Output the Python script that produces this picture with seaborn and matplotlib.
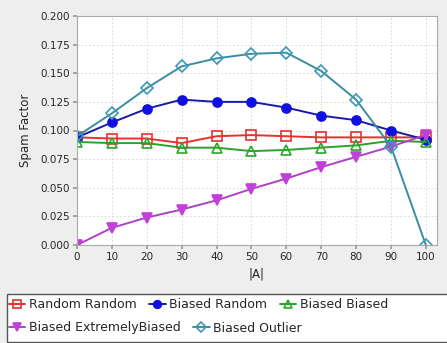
import pandas as pd
import seaborn as sns
import matplotlib.pyplot as plt
from matplotlib.patches import Rectangle

# |A| values on the x axis
sizes = [0, 10, 20, 30, 40, 50, 60, 70, 80, 90, 100]

random_random = [0.094, 0.093, 0.093, 0.089, 0.095, 0.096, 0.095, 0.094, 0.094, 0.094, 0.094]
biased_random = [0.094, 0.107, 0.119, 0.127, 0.125, 0.125, 0.120, 0.113, 0.109, 0.100, 0.092]
biased_biased = [0.090, 0.089, 0.089, 0.085, 0.085, 0.082, 0.083, 0.085, 0.087, 0.091, 0.090]
biased_extreme = [0.000, 0.015, 0.024, 0.031, 0.039, 0.049, 0.058, 0.068, 0.077, 0.086, 0.096]
biased_outlier = [0.095, 0.115, 0.137, 0.156, 0.163, 0.167, 0.168, 0.152, 0.127, 0.086, 0.000]

series_names = ['Random Random', 'Biased Random', 'Biased Biased',
                'Biased ExtremelyBiased', 'Biased Outlier']
y_ticks = [0.0, 0.025, 0.05, 0.075, 0.1, 0.125, 0.15, 0.175, 0.2]
x_ticks = sizes

sns.set_theme(style="whitegrid")
plt.rcParams['font.family'] = ['DejaVu Sans']

fig = plt.figure(figsize=(4.47, 3.43), dpi=100, facecolor='#eeeeee')
ax = fig.add_axes([77 / 447, 1 - 245 / 343, 360 / 447, 229 / 343])
ax.set_facecolor('white')

# style per series: (line colour, marker, face colour, edge colour, size)
styles = {
    'Random Random': ('#e8302c', 's', 'none', '#e8302c', 7),
    'Biased Random': ('#1a1aa8', 'o', '#1010e0', '#1010e0', 6.5),
    'Biased Biased': ('#2ca02c', '^', 'none', '#2aa82a', 7.5),
    'Biased ExtremelyBiased': ('#b040c8', 'v', '#c040d8', '#c040d8', 7.5),
    'Biased Outlier': ('#3a8ea0', 'D', 'none', '#3a9ab8', 6.5),
}
values = [random_random, biased_random, biased_biased, biased_extreme, biased_outlier]

for name, vals in zip(series_names, values):
    df = pd.DataFrame({'A': sizes, 'spam': vals})
    col, mk, fc, ec, ms = styles[name]
    sns.lineplot(data=df, x='A', y='spam', ax=ax, color=col, marker=mk,
                 markersize=ms, markerfacecolor=fc, markeredgecolor=ec,
                 markeredgewidth=1.2, linewidth=1.4, label=name, legend=False)

ax.set_xlim(0, 103.2)
ax.set_ylim(0, 0.2)
ax.set_xticks(x_ticks)
ax.set_yticks(y_ticks)
ax.set_yticklabels(['%.3f' % t for t in y_ticks])
ax.tick_params(labelsize=7.5, length=3, color='#999999', pad=2, left=True, bottom=True)
ax.grid(True, color='#dddddd', linestyle=(0, (2, 2)), linewidth=0.7)
for sp in ax.spines.values():
    sp.set_color('#aaaaaa')
    sp.set_linewidth(0.8)
ax.set_xlabel('|A|', fontsize=8.5, labelpad=4)
ax.set_ylabel('Spam Factor', fontsize=8.5, labelpad=6)

# legend box across the bottom
fig.add_artist(Rectangle((7 / 447, 1 / 343), 1.0, 48 / 343, transform=fig.transFigure,
                         facecolor='white', edgecolor='#555555', linewidth=1.0))
handles = ax.get_lines()
leg_kw = dict(loc='center left', frameon=False, fontsize=9, handlelength=1.3,
              handletextpad=0.3, columnspacing=1.0, borderpad=0, borderaxespad=0,
              markerscale=0.85)
fig.legend(handles[:3], series_names[:3], bbox_to_anchor=(9 / 447, 1 - 305 / 343),
           ncol=3, **leg_kw)
fig.legend(handles[3:], series_names[3:], bbox_to_anchor=(9 / 447, 1 - 328 / 343),
           ncol=2, **leg_kw)

fig.savefig('out.png', dpi=100, facecolor=fig.get_facecolor())
